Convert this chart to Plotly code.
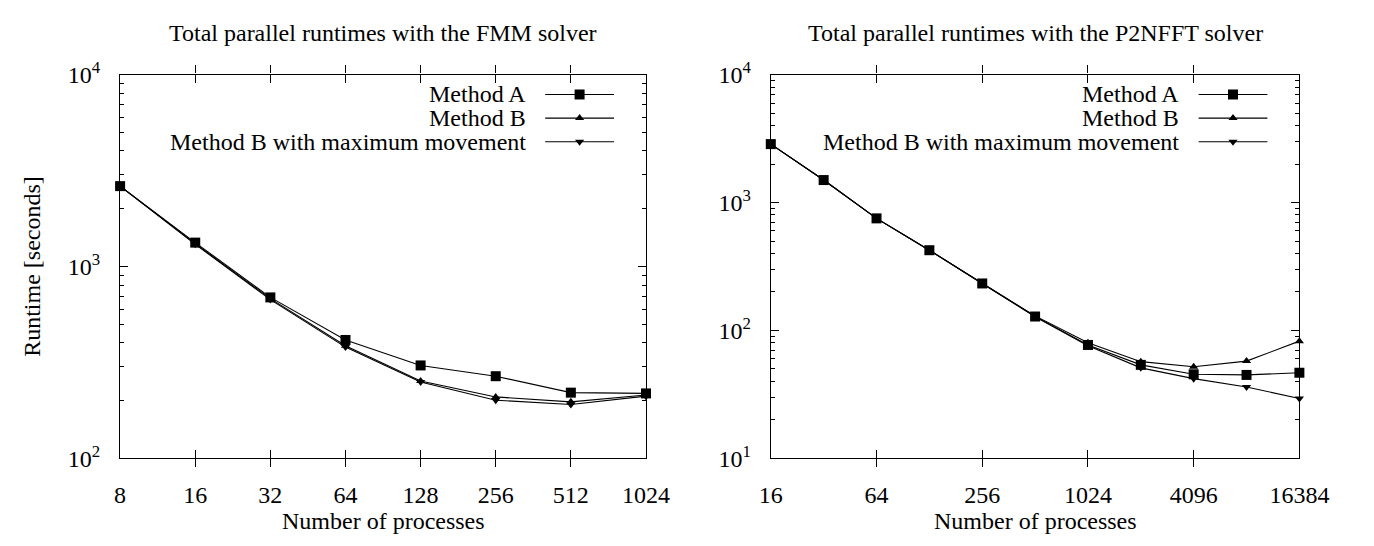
import plotly.graph_objects as go
import math

# ---------------- data ----------------
fmm_procs = [8, 16, 32, 64, 128, 256, 512, 1024]
fmm_a = [2624, 1332, 690, 414, 305, 268, 220, 218]
fmm_b = [2624, 1315, 680, 386, 253, 209, 197, 214]
fmm_bmax = [2624, 1305, 672, 380, 250, 201, 191, 211]

p2_procs = [16, 32, 64, 128, 256, 512, 1024, 2048, 4096, 8192, 16384]
p2_a = [2864, 1499, 752, 424, 233, 128.5, 77, 53.8, 45.4, 44.9, 46.7]
p2_b = [2864, 1499, 752, 424, 234, 130, 80, 57, 52, 57.6, 82.5]
p2_bmax = [2864, 1499, 752, 424, 233, 128, 76, 51, 42, 36.1, 29.4]

fmm_xticks = [8, 16, 32, 64, 128, 256, 512, 1024]
p2_xticks = [16, 64, 256, 1024, 4096, 16384]
fmm_yticks = [100, 1000, 10000]
p2_yticks = [10, 100, 1000, 10000]

series_names = ["Method A", "Method B", "Method B with maximum movement"]
titles = ["Total parallel runtimes with the FMM solver",
          "Total parallel runtimes with the P2NFFT solver"]
x_title = "Number of processes"
y_title = "Runtime [seconds]"

# ---------------- layout geometry (pixels) ----------------
W, H = 1374, 546
FONT = "Liberation Serif"
FS = 24
L1, R1 = 111.5, 654
L2, R2 = 782.7, 1328
TOP, BOT = 61, 467
EPS = 1e-4


def px(x):
    return x / W


def py(y):
    return 1 - y / H


symbols = ["square", "triangle-up", "triangle-down"]
sizes = [10, 8, 8]

fig = go.Figure()


def add_series(procs, ys_list, xa, ya):
    for name, ys, sym, sz in zip(series_names, ys_list, symbols, sizes):
        fig.add_trace(go.Scatter(
            x=procs, y=ys, mode="lines+markers", name=name,
            xaxis=xa, yaxis=ya, showlegend=False,
            line=dict(color="black", width=1.1),
            marker=dict(symbol=sym, size=sz, color="black", line=dict(width=0)),
            cliponaxis=False,
        ))


add_series(fmm_procs, [fmm_a, fmm_b, fmm_bmax], "x", "y")
add_series(p2_procs, [p2_a, p2_b, p2_bmax], "x2", "y2")


def sup(v):
    e = int(round(math.log10(v)))
    return f"10<sup>{e}</sup>"


def minor_vals(lo, hi):
    out = []
    for e in range(lo, hi):
        for m in range(2, 10):
            out.append(m * 10 ** e)
    return out


tickfont = dict(family=FONT, size=FS, color="black")
textfont = dict(family=FONT, size=FS, color="black")


def xaxis_def(dom, procs, ticks, anchor):
    return dict(
        type="log", domain=dom, anchor=anchor,
        range=[math.log10(procs[0]) - EPS, math.log10(procs[-1]) + EPS],
        tickmode="array", tickvals=ticks, ticktext=[str(v) for v in ticks],
        showline=True, linecolor="black", linewidth=1.3, mirror="allticks",
        ticks="inside", ticklen=8, tickwidth=1, tickcolor="black",
        showgrid=False, zeroline=False, tickfont=tickfont, ticklabelstandoff=15,
    )


def yaxis_def(dom, rng, ticks, anchor):
    return dict(
        type="log", domain=dom, anchor=anchor, range=rng,
        tickmode="array", tickvals=ticks, ticktext=[sup(v) for v in ticks],
        showline=True, linecolor="black", linewidth=1.3, mirror="allticks",
        ticks="inside", ticklen=8, tickwidth=1, tickcolor="black",
        showgrid=False, zeroline=False, tickfont=tickfont, ticklabelstandoff=14,
    )


def minor_axis_def(dom, rng, vals, anchor, overlay):
    return dict(
        type="log", domain=dom, anchor=anchor, range=rng, overlaying=overlay,
        tickmode="array", tickvals=vals, ticktext=["" for _ in vals],
        showline=False, mirror="allticks", ticks="inside", ticklen=4, tickwidth=1,
        tickcolor="black", showgrid=False, zeroline=False, showticklabels=False,
    )


ydom = [py(BOT), py(TOP)]
fig.update_layout(
    width=W, height=H,
    margin=dict(l=0, r=0, t=0, b=0),
    paper_bgcolor="white", plot_bgcolor="rgba(0,0,0,0)",
    showlegend=False,
    xaxis=xaxis_def([px(L1), px(R1)], fmm_procs, fmm_xticks, "y"),
    yaxis=yaxis_def(ydom, [2, 4], fmm_yticks, "x"),
    xaxis2=xaxis_def([px(L2), px(R2)], p2_procs, p2_xticks, "y2"),
    yaxis2=yaxis_def(ydom, [1, 4], p2_yticks, "x2"),
    yaxis4=minor_axis_def(ydom, [2, 4], minor_vals(2, 4), "x", "y"),
    yaxis5=minor_axis_def(ydom, [1, 4], minor_vals(1, 4), "x2", "y2"),
    xaxis3=dict(domain=[0, 1], range=[0, W], visible=False, fixedrange=True, anchor="y3"),
    yaxis3=dict(domain=[0, 1], range=[H, 0], visible=False, fixedrange=True, anchor="x3"),
)

# invisible traces so minor-tick axes get drawn
fig.add_trace(go.Scatter(x=[fmm_procs[1]], y=[fmm_a[1]], xaxis="x", yaxis="y4", mode="markers",
                         marker=dict(opacity=0), showlegend=False, hoverinfo="skip"))
fig.add_trace(go.Scatter(x=[p2_procs[1]], y=[p2_a[1]], xaxis="x2", yaxis="y5", mode="markers",
                         marker=dict(opacity=0), showlegend=False, hoverinfo="skip"))

# titles and axis titles
for t, (l, r) in zip(titles, [(L1, R1), (L2, R2)]):
    fig.add_annotation(text=t, x=px((l + r) / 2), y=py(17), xref="paper", yref="paper",
                       showarrow=False, xanchor="center", yanchor="middle", font=textfont)
    fig.add_annotation(text=x_title, x=px((l + r) / 2), y=py(533), xref="paper", yref="paper",
                       showarrow=False, xanchor="center", yanchor="middle", font=textfont)
fig.add_annotation(text=y_title, x=px(21), y=py((TOP + BOT) / 2), xref="paper", yref="paper",
                   showarrow=False, xanchor="center", yanchor="middle", textangle=-90, font=textfont)

# manual legends (text right-aligned, sample on the right)
rows = [82, 107, 132]
for R in [R1, R2]:
    text_end = R - 122
    ls, le, mk = R - 104, R - 33, R - 68.5
    for name, sym, sz, ry in zip(series_names, symbols, sizes, rows):
        fig.add_annotation(text=name, x=px(text_end), y=py(ry), xref="paper", yref="paper",
                           showarrow=False, xanchor="right", yanchor="middle", font=textfont)
        fig.add_trace(go.Scatter(x=[ls, le], y=[ry, ry], mode="lines", xaxis="x3", yaxis="y3",
                                 line=dict(color="black", width=1.1), showlegend=False, hoverinfo="skip"))
        fig.add_trace(go.Scatter(x=[mk], y=[ry], mode="markers", xaxis="x3", yaxis="y3",
                                 marker=dict(symbol=sym, size=sz, color="black", line=dict(width=0)),
                                 showlegend=False, hoverinfo="skip"))

fig.write_html("out.html")
